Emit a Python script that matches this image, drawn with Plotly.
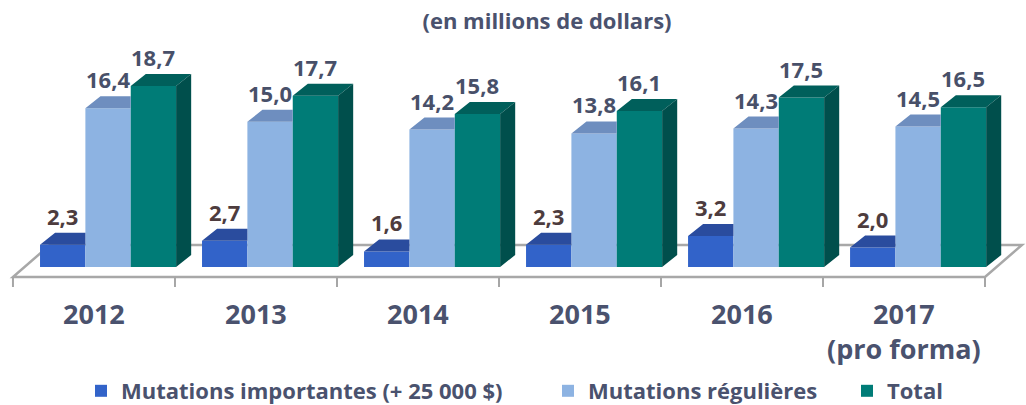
import plotly.graph_objects as go

# ---------------- data ----------------
years = ["2012", "2013", "2014", "2015", "2016", "2017<br>(pro forma)"]
importantes = [2.3, 2.7, 1.6, 2.3, 3.2, 2.0]
regulieres = [16.4, 15.0, 14.2, 13.8, 14.3, 14.5]
total = [18.7, 17.7, 15.8, 16.1, 17.5, 16.5]
series_names = ["Mutations importantes (+ 25 000 $)", "Mutations régulières", "Total"]
title_text = "(en millions de dollars)"

series_values = [importantes, regulieres, total]


def fmt(v):
    return f"{v:.1f}".replace(".", ",")


# ---------------- style / geometry ----------------
n = len(years)
idx = list(range(n))
BAR_W = 0.28
OFFSETS = [-0.333, -0.053, 0.227]
DX, DY = 0.093, 1.24            # pseudo-3D depth (x units, y units)
FLOOR_FRONT, FLOOR_BACK = -1.03, 2.27
FLOOR_SHIFT = 0.228
TICK_BOTTOM = -2.07
FRONT = ["#3263C9", "#8DB3E2", "#007C77"]
TOP = ["#2A4C9E", "#6E8EBF", "#005F5B"]
SIDE = "#004F4C"
LABEL_COL = ["#4D3C3E", "#485069", "#485069"]
TEXT_COL = "#4A526E"
FONT = "Open Sans"

fig = go.Figure()

legends = ["legend", "legend2", "legend3"]
for s, (name, vals) in enumerate(zip(series_names, series_values)):
    fig.add_trace(go.Bar(
        x=idx, y=vals, base=0, width=BAR_W, offset=OFFSETS[s],
        marker=dict(color=FRONT[s], line=dict(width=0)),
        name=name, legend=legends[s], hoverinfo="skip",
    ))

# top faces (clipped where the next bar hides them) and side faces of last series
for s, vals in enumerate(series_values):
    xs, ys = [], []
    for i, v in zip(idx, vals):
        x0 = i + OFFSETS[s]
        x1 = x0 + BAR_W
        if s < len(series_values) - 1:
            xs += [x0, x1, x1, x0 + DX, x0, None]
            ys += [v, v, v + DY, v + DY, v, None]
        else:
            xs += [x0, x1, x1 + DX, x0 + DX, x0, None]
            ys += [v, v, v + DY, v + DY, v, None]
    fig.add_trace(go.Scatter(x=xs, y=ys, mode="lines", fill="toself",
                             fillcolor=TOP[s], line=dict(width=0),
                             showlegend=False, hoverinfo="skip"))

xs, ys = [], []
s = len(series_values) - 1
for i, v in zip(idx, series_values[s]):
    x1 = i + OFFSETS[s] + BAR_W
    xs += [x1, x1 + DX, x1 + DX, x1, x1, None]
    ys += [0, DY, v + DY, v, 0, None]
fig.add_trace(go.Scatter(x=xs, y=ys, mode="lines", fill="toself",
                         fillcolor=SIDE, line=dict(width=0),
                         showlegend=False, hoverinfo="skip"))

# category separators (ticks) below the floor
tx, ty = [], []
for k in range(n + 1):
    tx += [k - 0.5, k - 0.5, None]
    ty += [FLOOR_FRONT, TICK_BOTTOM, None]
fig.add_trace(go.Scatter(x=tx, y=ty, mode="lines",
                         line=dict(color="#A6A6A6", width=2),
                         showlegend=False, hoverinfo="skip"))

# floor
x_left, x_right = -0.5, n - 0.5
floor_path = (f"M {x_left},{FLOOR_FRONT} L {x_right},{FLOOR_FRONT} "
              f"L {x_right + FLOOR_SHIFT},{FLOOR_BACK} L {x_left + FLOOR_SHIFT},{FLOOR_BACK} Z")
fig.add_shape(type="path", path=floor_path, xref="x", yref="y", layer="below",
              fillcolor="white", line=dict(color="#A8A8A8", width=2.5))

# value labels
annotations = []
for s, vals in enumerate(series_values):
    for i, v in zip(idx, vals):
        annotations.append(dict(
            x=i + OFFSETS[s] + BAR_W / 2, y=v + DY, xref="x", yref="y",
            text=fmt(v), showarrow=False, yanchor="bottom", xanchor="center",
            font=dict(family=FONT, size=22, color=LABEL_COL[s], weight="bold"),
        ))
# category labels
for i, lab in zip(idx, years):
    annotations.append(dict(
        x=i, y=-2.67, xref="x", yref="y", text=lab, showarrow=False,
        yanchor="top", xanchor="center",
        font=dict(family=FONT, size=27, color=TEXT_COL, weight="bold"),
    ))

legend_common = dict(orientation="h", yref="paper", xref="paper",
                     y=1 - 391 / 405, yanchor="middle", bgcolor="rgba(0,0,0,0)",
                     font=dict(family=FONT, size=22, color=TEXT_COL, weight="bold"))

fig.update_layout(
    width=1026, height=405,
    margin=dict(l=0, r=0, t=0, b=0, autoexpand=False),
    paper_bgcolor="white", plot_bgcolor="white",
    barmode="overlay",
    xaxis=dict(visible=False, range=[-0.580, 5.753], fixedrange=True),
    yaxis=dict(visible=False, range=[-14.26, 27.58], fixedrange=True),
    title=dict(text=title_text, x=547 / 1026, xanchor="center", y=1 - 21 / 405,
               yanchor="middle", yref="container",
               font=dict(family=FONT, size=22, color=TEXT_COL, weight="bold")),
    annotations=annotations,
    legend=dict(x=81 / 1026, xanchor="left", **legend_common),
    legend2=dict(x=548 / 1026, xanchor="left", **legend_common),
    legend3=dict(x=847 / 1026, xanchor="left", **legend_common),
    showlegend=True,
)

fig.write_html("out.html", config={"displayModeBar": False},
               post_script="document.body.style.margin='0';")
